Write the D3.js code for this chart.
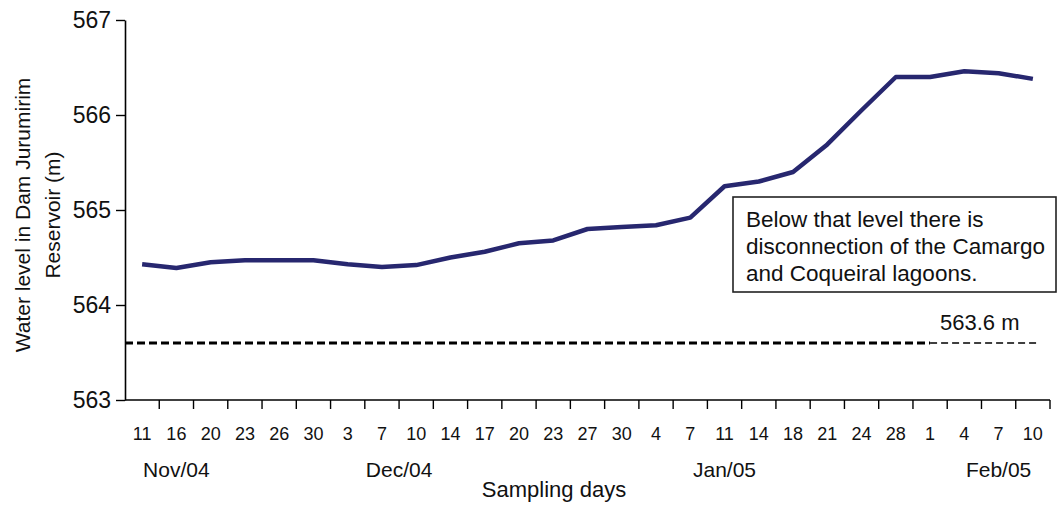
<!DOCTYPE html>
<html>
<head>
<meta charset="utf-8">
<script src="https://cdn.jsdelivr.net/npm/d3@7"></script>
<style>
  html, body { margin: 0; padding: 0; background: #fff; }
  svg { display: block; font-family: "Liberation Sans", Arial, Helvetica, sans-serif; }
</style>
</head>
<body>
<svg id="chart" width="1059" height="506"></svg>
<script>
// ---- data ----
const days = ["11","16","20","23","26","30","3","7","10","14","17","20","23","27","30","4","7","11","14","18","21","24","28","1","4","7","10"];
const levels = [564.43,564.39,564.45,564.47,564.47,564.47,564.43,564.40,564.42,564.50,564.56,564.65,564.68,564.80,564.82,564.84,564.92,565.25,565.30,565.40,565.69,566.05,566.40,566.40,566.46,566.44,566.38];
const months = ["Nov/04","Dec/04","Jan/05","Feb/05"];
const monthAnchor = [1, 7.5, 17, 25]; // category index each month label sits under
const yTicks = [563, 564, 565, 566, 567];
const threshold = 563.6;
const thresholdLabel = "563.6 m";
const noteLines = ["Below that level there is", "disconnection of the Camargo", "and Coqueiral lagoons."];
const yTitle = ["Water level in Dam Jurumirim", "Reservoir (m)"];
const xTitle = "Sampling days";

// ---- layout ----
const svg = d3.select("#chart");
const x0 = 125, x1 = 1050, yTop = 20, yBot = 400;
const idx = d3.range(days.length);
const x = d3.scaleBand().domain(idx).range([x0, x1]).padding(0);
const xl = d3.scaleLinear().domain([0, days.length]).range([x0, x1]);
const y = d3.scaleLinear().domain([563, 567]).range([yBot, yTop]);
const lineColor = "#27276f";

// y axis
const yAxis = svg.append("g").attr("transform", `translate(${x0},0)`)
  .call(d3.axisLeft(y).tickValues(yTicks).tickFormat(d3.format("d")).tickSizeInner(9).tickSizeOuter(0).tickPadding(5));
yAxis.select(".domain").attr("stroke", "#000").attr("stroke-width", 1.6);
yAxis.selectAll(".tick line").attr("stroke", "#000").attr("stroke-width", 1.4);
yAxis.selectAll("text").attr("font-size", 23).attr("fill", "#111").attr("font-family", "Liberation Sans, Arial, sans-serif");

// x axis labels
const xAxis = svg.append("g").attr("transform", `translate(0,${yBot})`)
  .call(d3.axisBottom(x).tickFormat(i => days[i]).tickSizeInner(0).tickSizeOuter(0).tickPadding(27));
xAxis.select(".domain").remove();
xAxis.selectAll("text").attr("font-size", 18).attr("fill", "#111");

// x axis line and boundary ticks
svg.append("line").attr("x1", x0).attr("x2", x1).attr("y1", yBot).attr("y2", yBot)
  .attr("stroke", "#000").attr("stroke-width", 1.6);
svg.append("g").selectAll("line").data(d3.range(1, days.length + 1)).join("line")
  .attr("x1", d => xl(d)).attr("x2", d => xl(d))
  .attr("y1", yBot).attr("y2", yBot + 9)
  .attr("stroke", "#000").attr("stroke-width", 1.4);

// month labels
svg.append("g").selectAll("text").data(months).join("text")
  .attr("x", (d, i) => xl(monthAnchor[i] + 0.5))
  .attr("y", 477)
  .attr("text-anchor", "middle")
  .attr("font-size", 21).attr("fill", "#111")
  .text(d => d);

// x title
svg.append("text").attr("x", 554).attr("y", 497).attr("text-anchor", "middle")
  .attr("font-size", 22).attr("fill", "#111").text(xTitle);

// y title
const yt = svg.append("text").attr("transform", "translate(30,215) rotate(-90)")
  .attr("text-anchor", "middle").attr("font-size", 21).attr("fill", "#111");
yTitle.forEach((t, i) => yt.append("tspan").attr("x", 0).attr("dy", i === 0 ? 0 : 30).text(t));

// threshold line: thick part then thin part
svg.append("line").attr("x1", x0).attr("x2", xl(23.5)).attr("y1", y(threshold)).attr("y2", y(threshold))
  .attr("stroke", "#000").attr("stroke-width", 3).attr("stroke-dasharray", "8,4");
svg.append("line").attr("x1", xl(23.5)).attr("x2", xl(26.7)).attr("y1", y(threshold)).attr("y2", y(threshold))
  .attr("stroke", "#000").attr("stroke-width", 1.3).attr("stroke-dasharray", "7,4");
svg.append("text").attr("x", 940).attr("y", y(threshold) - 13)
  .attr("font-size", 22).attr("fill", "#111").text(thresholdLabel);

// data line
svg.append("path").datum(levels)
  .attr("fill", "none").attr("stroke", lineColor).attr("stroke-width", 4.5)
  .attr("stroke-linejoin", "round")
  .attr("d", d3.line().x((d, i) => x(i) + x.bandwidth() / 2).y(d => y(d)));

// annotation box
const bx = 733, by = 197, bw = 323, bh = 95;
svg.append("rect").attr("x", bx).attr("y", by).attr("width", bw).attr("height", bh)
  .attr("fill", "#fff").attr("stroke", "#222").attr("stroke-width", 1.6);
svg.append("g").selectAll("text").data(noteLines).join("text")
  .attr("x", bx + 13).attr("y", (d, i) => by + 30 + i * 27)
  .attr("font-size", 22.5).attr("fill", "#111").text(d => d);
</script>
</body>
</html>
